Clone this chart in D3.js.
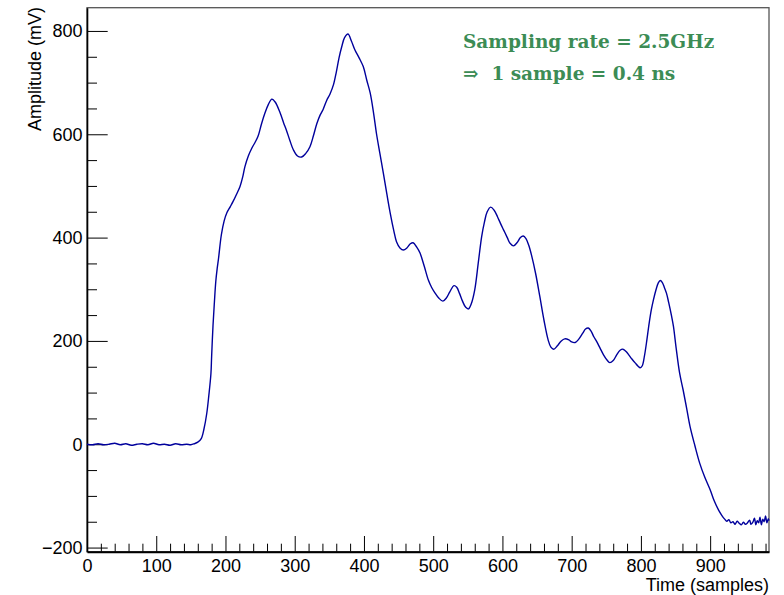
<!DOCTYPE html>
<html>
<head>
<meta charset="utf-8">
<title>Waveform</title>
<script src="https://d3js.org/d3.v7.min.js"></script>
<style>
  body { margin: 0; background: #fff; }
  svg text { font-family: "Liberation Sans", Arial, Helvetica, sans-serif; }
  .note { font-family: "DejaVu Serif", "Liberation Serif", serif; font-weight: bold; }
</style>
</head>
<body>
<svg id="chart" width="784" height="595"></svg>
<script>
// digitized waveform: sample index and amplitude in mV
var times = [0, 8, 16, 24, 32, 40, 48, 56, 64, 72, 80, 88, 96, 104, 112, 120, 128, 136, 144, 150, 155, 160,
  165, 169, 173, 176, 179, 180, 182, 184, 186, 188, 190, 194, 198, 202, 207, 211, 216, 221, 225, 228, 233, 238,
  243, 247, 252, 257, 262, 267, 272, 279, 284, 288, 293, 298, 304, 310, 316, 322, 327, 332, 337, 341, 346, 351,
  356, 360, 364, 368, 372, 377, 382, 387, 393, 399, 404, 409, 414, 418, 423, 428, 433, 438, 443, 447, 452, 457,
  462, 467, 471, 476, 481, 487, 493, 498, 503, 508, 514, 519, 524, 530, 534, 538, 542, 547, 551, 555, 560, 565,
  570, 574, 578, 583, 588, 593, 597, 602, 607, 611, 616, 621, 626, 630, 634, 638, 642, 648, 654, 660, 666, 670,
  674, 679, 685, 690, 696, 700, 705, 710, 716, 720, 724, 728, 732, 736, 741, 746, 751, 755, 760, 765, 770, 774,
  779, 783, 787, 792, 796, 799, 802, 805, 808, 812, 815, 818, 822, 825, 828, 831, 834, 837, 840, 844, 847, 851,
  856, 861, 866, 871, 878, 885, 892, 900, 906, 912, 917, 921, 924, 927, 930, 933, 936, 939, 942, 945, 948, 951,
  954, 957, 959, 962, 964, 966, 968, 970, 972, 974, 976, 978, 980, 982, 984, 985];
var amplitudes = [0, -1, 1, -1, 0, 2, -1, 1, -2, 0, 1, -1, 2, -1, 0, -2, 1, -1, 0, -1, 1, 4,
  11, 30, 60, 95, 137, 170, 230, 275, 315, 340, 360, 405, 432, 448, 460, 470, 484, 499, 518, 537, 558, 573,
  585, 596, 620, 641, 658, 668, 662, 641, 622, 608, 588, 570, 558, 556, 563, 576, 597, 621, 638, 648, 665, 678,
  696, 720, 748, 770, 787, 794, 780, 763, 748, 731, 705, 680, 640, 602, 563, 525, 485, 447, 414, 392, 380, 376,
  380, 388, 390, 382, 370, 345, 318, 303, 292, 283, 277, 283, 295, 307, 304, 292, 278, 265, 262, 272, 299, 350,
  402, 430, 450, 459, 453, 440, 428, 414, 400, 389, 384, 390, 400, 403, 398, 385, 366, 330, 286, 240, 202, 188,
  184, 190, 200, 204, 202, 198, 197, 203, 215, 223, 225, 219, 208, 199, 186, 173, 163, 158, 162, 173, 182, 184,
  179, 172, 165, 157, 151, 148, 152, 170, 196, 235, 260, 279, 300, 312, 317, 313, 303, 292, 275, 250, 228, 185,
  137, 105, 70, 34, -3, -37, -63, -88, -110, -127, -138, -145, -149, -146, -152, -150, -155, -149, -153, -156, -151, -155,
  -152, -147, -155, -150, -143, -156, -148, -152, -141, -156, -145, -150, -139, -152, -144, -148];

var xTicks = [0, 100, 200, 300, 400, 500, 600, 700, 800, 900];
var yTicks = [-200, 0, 200, 400, 600, 800];
var xTitle = "Time (samples)";
var yTitle = "Amplitude (mV)";
var noteLines = ["Sampling rate = 2.5GHz", "\u21D2  1 sample = 0.4 ns"];

var svg = d3.select("#chart");
var L = 87, R = 769, T = 7.7, B = 551.7;

var x = d3.scaleLinear().domain([0, 985]).range([L, R]);
var y = d3.scaleLinear().domain([-208, 845]).range([B, T]);

// frame
svg.append("rect")
  .attr("x", L).attr("y", T)
  .attr("width", R - L).attr("height", B - T)
  .attr("fill", "none").attr("stroke", "#555").attr("stroke-width", 1.3);

var fmt = function(d) { return d < 0 ? "\u2212" + Math.abs(d) : d; };

// x axis
var xMinor = d3.range(0, 985, 20).filter(function(d) { return d % 100 != 0; });
svg.append("g")
  .attr("transform", "translate(0," + B + ")")
  .call(d3.axisBottom(x).tickValues(xMinor).tickSize(-8).tickFormat(""))
  .call(function(g) { g.select(".domain").remove(); });
var gx = svg.append("g")
  .attr("transform", "translate(0," + B + ")")
  .call(d3.axisBottom(x).tickValues(xTicks).tickSize(-15.7).tickPadding(7.5).tickFormat(fmt).tickSizeOuter(0));
gx.select(".domain").attr("stroke-width", 2);
gx.selectAll("text").attr("font-size", 18).attr("fill", "#000");

// y axis
var yMinor = d3.range(-200, 845, 50).filter(function(d) { return d % 200 != 0; });
svg.append("g")
  .attr("transform", "translate(" + L + ",0)")
  .call(d3.axisLeft(y).tickValues(yMinor).tickSize(-10).tickFormat(""))
  .call(function(g) { g.select(".domain").remove(); });
var gy = svg.append("g")
  .attr("transform", "translate(" + L + ",0)")
  .call(d3.axisLeft(y).tickValues(yTicks).tickSize(-20.7).tickPadding(4.5).tickFormat(fmt).tickSizeOuter(0));
gy.select(".domain").attr("stroke-width", 1.6);
gy.selectAll("text").attr("font-size", 18).attr("fill", "#000");

// titles
svg.append("text")
  .attr("x", R).attr("y", 591)
  .attr("text-anchor", "end").attr("font-size", 18)
  .text(xTitle);
svg.append("text")
  .attr("transform", "translate(41," + 7 + ") rotate(-90)")
  .attr("text-anchor", "end").attr("font-size", 18)
  .text(yTitle);

// waveform
var line = d3.line()
  .x(function(d, i) { return x(times[i]); })
  .y(function(d) { return y(d); })
  .curve(d3.curveCatmullRom.alpha(0.5));
svg.append("path")
  .datum(amplitudes)
  .attr("fill", "none")
  .attr("stroke", "#00009c")
  .attr("stroke-width", 1.4)
  .attr("d", line);

// annotation
svg.selectAll(".note")
  .data(noteLines)
  .enter()
  .append("text")
  .attr("class", "note")
  .attr("x", 463)
  .attr("y", function(d, i) { return 48.3 + i * 31.7; })
  .attr("font-size", 18.5)
  .attr("fill", "#3c8c55")
  .text(function(d) { return d; })
  .style("white-space", "pre");
</script>
</body>
</html>
